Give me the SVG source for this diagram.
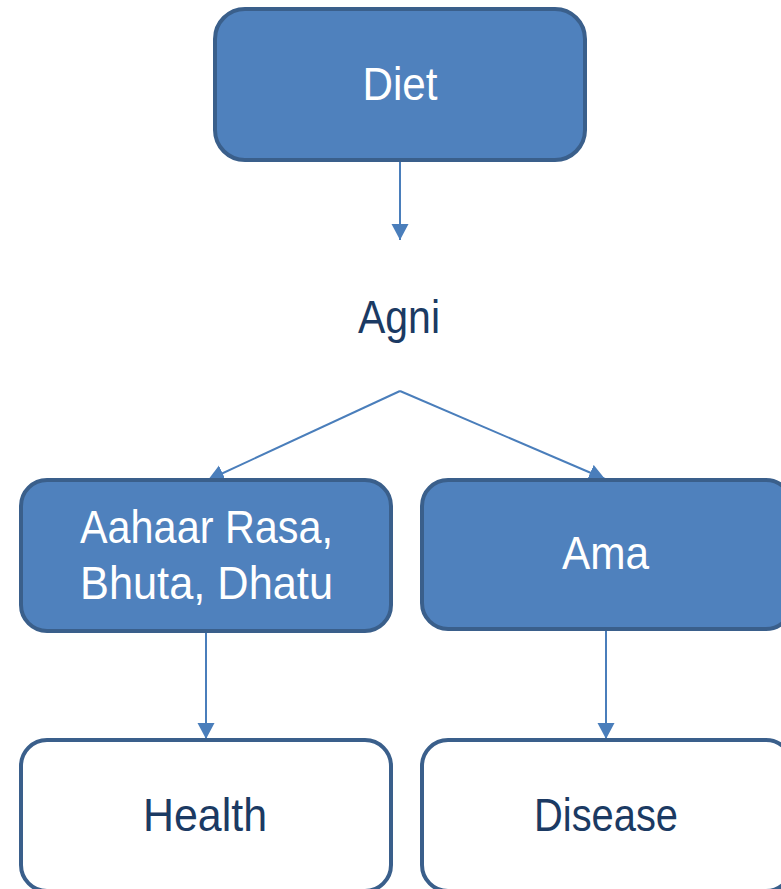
<svg xmlns="http://www.w3.org/2000/svg" width="781" height="889" viewBox="0 0 781 889">
  <style>
    .box-fill { fill: #4F81BD; stroke: #3A5F8B; stroke-width: 4; }
    .box-plain { fill: #FFFFFF; stroke: #3A5F8B; stroke-width: 4; }
    .lbl { font-family: "Liberation Sans", Arial, sans-serif; font-size: 47px; text-anchor: middle; }
    .lbl-light { fill: #FFFFFF; }
    .lbl-dark { fill: #1B3A63; }
    .conn { fill: none; stroke: #4A7EBB; stroke-width: 2; marker-end: url(#arrow); }
  </style>
  <defs>
    <marker id="arrow" markerUnits="userSpaceOnUse" markerWidth="16" markerHeight="18" refX="16" refY="8.5" orient="auto">
      <path d="M0,0 L16,8.5 L0,17 z" fill="#4A7EBB"/>
    </marker>
  </defs>

  <rect width="781" height="889" fill="#FFFFFF"/>

  <g id="connectors">
    <line class="conn" x1="400" y1="162" x2="400" y2="240"/>
    <line class="conn" x1="400" y1="391" x2="208" y2="480"/>
    <line class="conn" x1="400" y1="391" x2="605" y2="479"/>
    <line class="conn" x1="206" y1="633" x2="206" y2="739"/>
    <line class="conn" x1="606" y1="631" x2="606" y2="739"/>
  </g>

  <g id="diet">
    <rect class="box-fill" x="215" y="9" width="370" height="151" rx="30" ry="30"/>
    <text class="lbl lbl-light" x="400" y="100" textLength="75" lengthAdjust="spacingAndGlyphs">Diet</text>
  </g>

  <g id="agni">
    <text class="lbl lbl-dark" x="399" y="333" textLength="82" lengthAdjust="spacingAndGlyphs">Agni</text>
  </g>

  <g id="aahaar-rasa">
    <rect class="box-fill" x="21" y="480" width="370" height="151" rx="26" ry="26"/>
    <text class="lbl lbl-light" x="206.5" y="543" textLength="253" lengthAdjust="spacingAndGlyphs">Aahaar Rasa,</text>
    <text class="lbl lbl-light" x="206.5" y="599" textLength="253" lengthAdjust="spacingAndGlyphs">Bhuta, Dhatu</text>
  </g>

  <g id="ama">
    <rect class="box-fill" x="422" y="480" width="370" height="149" rx="26" ry="26"/>
    <text class="lbl lbl-light" x="605.5" y="569" textLength="87" lengthAdjust="spacingAndGlyphs">Ama</text>
  </g>

  <g id="health">
    <rect class="box-plain" x="21" y="740" width="370" height="151" rx="26" ry="26"/>
    <text class="lbl lbl-dark" x="205" y="831" textLength="124" lengthAdjust="spacingAndGlyphs">Health</text>
  </g>

  <g id="disease">
    <rect class="box-plain" x="422" y="740" width="370" height="151" rx="26" ry="26"/>
    <text class="lbl lbl-dark" x="606" y="831" textLength="144" lengthAdjust="spacingAndGlyphs">Disease</text>
  </g>
</svg>
